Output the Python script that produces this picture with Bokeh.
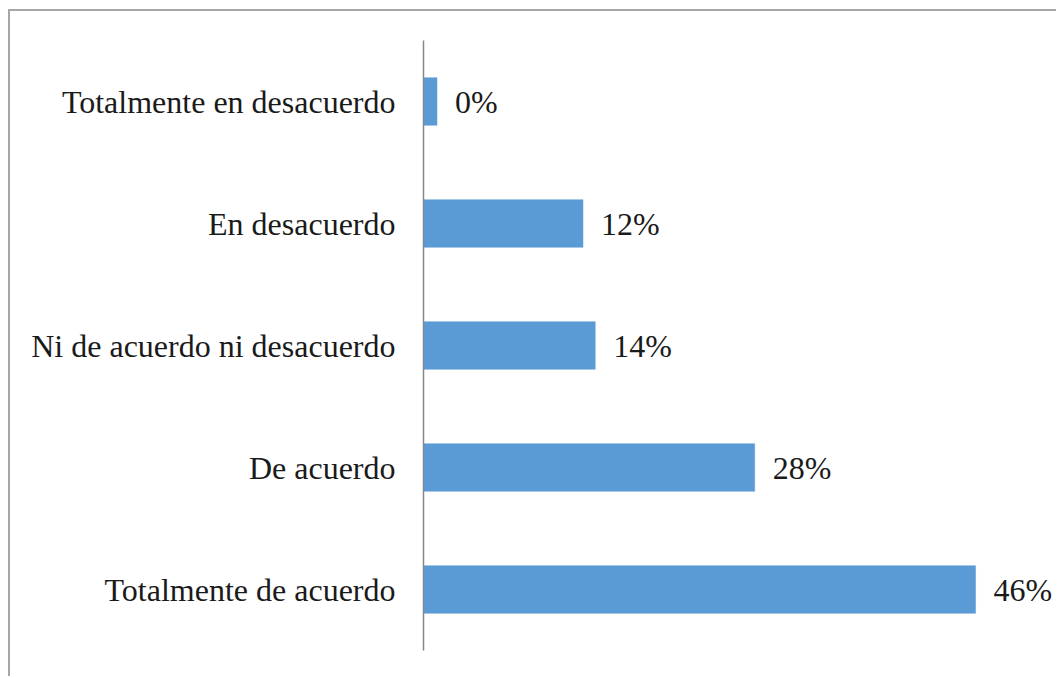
from bokeh.plotting import figure
from bokeh.models import FactorRange, Range1d, ColumnDataSource
from bokeh.core.properties import value
from bokeh.embed import file_html
from bokeh.resources import INLINE

# Data (top to bottom as in the reference)
categories = ["Totalmente en desacuerdo", "En desacuerdo", "Ni de acuerdo ni desacuerdo",
              "De acuerdo", "Totalmente de acuerdo"]
bar_values = [1.1, 13.0, 14.0, 27.0, 45.0]
pct_labels = ["0%", "12%", "14%", "28%", "46%"]

FONT = value("Liberation Serif")

p = figure(
    width=1048, height=667,
    y_range=FactorRange(factors=list(reversed(categories)), range_padding=0),
    x_range=Range1d(0, 51.6),
    output_backend="svg", toolbar_location=None,
    min_border_left=413, min_border_right=2, min_border_top=29, min_border_bottom=28,
)
p.margin = (11, 0, 0, 10)
p.styles = {"box-shadow": "-2px -2px 0 0 #a6a6a6"}

src = ColumnDataSource(dict(cat=categories, val=bar_values, lab=pct_labels))
p.hbar(y="cat", right="val", left=0, height=0.39, source=src,
       fill_color="#5B9BD5", line_color="#5B9BD5", line_width=0.5)
p.text(x="val", y="cat", text="lab", source=src, x_offset=18,
       text_baseline="middle", text_align="left",
       text_font=FONT, text_font_size="32px", text_color="#1a1a1a")

p.xaxis.visible = False
p.xgrid.visible = False
p.ygrid.visible = False
p.outline_line_color = None

ya = p.yaxis[0]
ya.major_tick_line_color = None
ya.minor_tick_line_color = None
ya.major_tick_out = 0
ya.major_tick_in = 0
ya.major_label_standoff = 28
ya.axis_line_color = "#868686"
ya.axis_line_width = 1.5
ya.major_label_text_font = "Liberation Serif"
ya.major_label_text_font_size = "32px"
ya.major_label_text_color = "#1a1a1a"

open("out.html", "w").write(file_html(p, INLINE))
